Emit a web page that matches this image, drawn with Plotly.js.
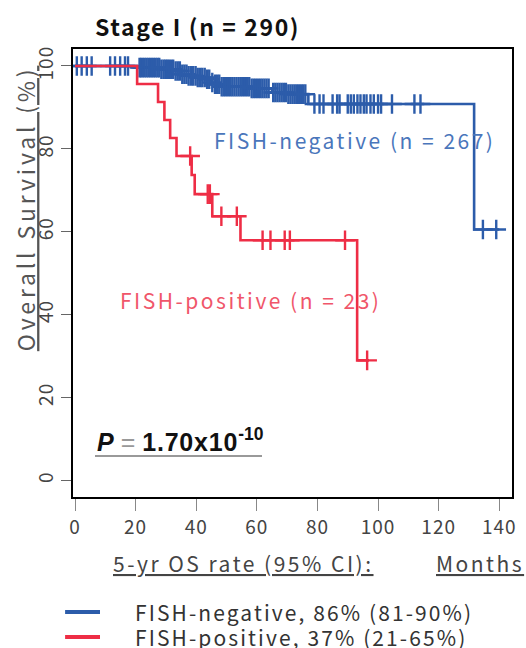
<!DOCTYPE html>
<html>
<head>
<meta charset="utf-8">
<script src="https://cdn.plot.ly/plotly-3.0.1.min.js"></script>
<style>html,body{margin:0;padding:0;background:#fff;}#chart{width:526px;height:648px;}</style>
</head>
<body>
<div id="chart"></div>
<script>
// ---- Data ----
// FISH-negative Kaplan-Meier steps (months, survival %)
var negTimes = [0, 21, 28, 33, 35, 37, 40, 43, 45, 46, 48, 58, 65, 70, 77, 131.7];
var negSurv  = [100, 99.6, 99.2, 98.8, 98.0, 97.6, 97.2, 96.8, 96.0, 95.6, 95.0, 94.6, 93.6, 93.2, 90.8, 60.5];
var negCensor = [0.6, 2.2, 3.9, 5.5, 11.6, 13.2, 14.9, 16.5, 17.5,
  21.3, 21.8, 22.4, 23.0, 23.6, 24.2, 24.8, 25.4, 26.0, 26.6, 27.2, 27.8, 28.5, 29.2, 29.8, 30.4, 31.0, 31.7,
  32.4, 33.2, 33.9, 34.6, 35.4, 36.1, 36.8, 37.5, 38.3, 39.0, 39.8, 40.5, 41.3, 42.0, 42.8, 43.6, 44.3,
  45.3, 46.2, 46.9, 47.6, 48.4, 49.1, 49.8, 50.5, 51.2, 51.9, 52.6, 53.3, 54.0, 54.7, 55.4, 56.1, 56.8,
  57.5, 58.3, 59.0, 59.7, 60.4, 61.1, 61.8, 62.5, 63.2, 63.9, 65.4, 66.1, 66.8, 67.5, 68.2, 68.9, 69.6,
  70.4, 71.1, 71.8, 72.5, 73.2, 73.9, 74.6, 75.3, 76.0,
  79, 80.7, 82, 85, 86.5, 87.3, 90, 91, 92, 93.2, 94.2, 95.3, 96.2, 97.5, 98.6, 100, 101, 104.6, 112, 114,
  134.6, 139];

// FISH-positive Kaplan-Meier steps
var posTimes = [0, 20.5, 27.4, 29.5, 31.4, 33.5, 38.5, 39.5, 45.3, 54.6, 93.1];
var posSurv  = [100, 95.65, 91.3, 86.96, 82.61, 78.26, 73.66, 69.05, 63.7, 57.9, 28.9];
var posCensor = [38.0, 43.8, 44.5, 48.3, 53.4, 61.9, 64.5, 69.2, 70.9, 89.1, 96.4];

var xTicks = [0, 20, 40, 60, 80, 100, 120, 140];
var yTicks = [0, 20, 40, 60, 80, 100];

var negEnd = 140, posEnd = 97;
var negColor = '#2c5caa', posColor = '#ee2d45';

// ---- helpers: build step line, look up survival at censor times ----
function stepXY(t, s, tEnd) {
  var x = [], y = [];
  for (var i = 0; i < t.length; i++) {
    if (i > 0) { x.push(t[i]); y.push(s[i - 1]); }
    x.push(t[i]); y.push(s[i]);
  }
  x.push(tEnd); y.push(s[s.length - 1]);
  return {x: x, y: y};
}
function survAt(t, s, time) {
  var v = s[0];
  for (var i = 0; i < t.length; i++) { if (t[i] <= time) v = s[i]; }
  return v;
}
function sp(txt, ls) { return '<span style="letter-spacing:' + ls + 'px">' + txt + '</span>'; }

var negStep = stepXY(negTimes, negSurv, negEnd);
var posStep = stepXY(posTimes, posSurv, posEnd);

var traces = [
  {x: negStep.x, y: negStep.y, mode: 'lines', line: {color: negColor, width: 2.6}, hoverinfo: 'skip', showlegend: false},
  {x: negCensor, y: negCensor.map(function (c) { return survAt(negTimes, negSurv, c); }), mode: 'markers',
   marker: {symbol: 'cross-thin', size: 14, line: {color: negColor, width: 2.4}}, hoverinfo: 'skip', showlegend: false},
  {x: posStep.x, y: posStep.y, mode: 'lines', line: {color: posColor, width: 2.6}, hoverinfo: 'skip', showlegend: false},
  {x: posCensor, y: posCensor.map(function (c) { return survAt(posTimes, posSurv, c); }), mode: 'markers',
   marker: {symbol: 'cross-thin', size: 14, line: {color: posColor, width: 2.4}}, hoverinfo: 'skip', showlegend: false}
];

var jp = '"Noto Sans CJK JP", "Noto Sans", sans-serif';
var layout = {
  width: 526, height: 648,
  margin: {l: 73, r: 14, t: 49, b: 151, pad: 0},
  paper_bgcolor: '#fff', plot_bgcolor: '#fff',
  showlegend: false,
  xaxis: {
    range: [-0.66, 144.2], tickvals: xTicks, ticktext: xTicks.map(function (v) { return sp(String(v), 1); }),
    showgrid: false, zeroline: false, showline: true, mirror: true, linecolor: '#000', linewidth: 2,
    ticks: 'outside', ticklen: 12, tickcolor: '#888', tickwidth: 1,
    tickfont: {family: jp, size: 19, color: '#444'}, fixedrange: true
  },
  yaxis: {
    range: [-4.1, 104.1], tickvals: yTicks, ticktext: yTicks.map(function (v) { return sp(String(v), 1); }),
    showgrid: false, zeroline: false, showline: true, mirror: true, linecolor: '#000', linewidth: 2,
    ticks: 'outside', ticklen: 10, tickcolor: '#666', tickwidth: 1, tickangle: -90,
    tickfont: {family: jp, size: 19, color: '#444'}, fixedrange: true
  },
  annotations: [
    {xref: 'paper', yref: 'paper', x: 0.0456, y: 1.051, xanchor: 'left', yanchor: 'middle', showarrow: false,
     text: '<b>' + sp('Stage I (n = 290)', 1.6) + '</b>', font: {family: jp, size: 23, color: '#111'}},
    {xref: 'paper', yref: 'paper', x: -0.109, y: 0.645, xanchor: 'center', yanchor: 'middle', showarrow: false, textangle: -90,
     text: '<u>' + sp('Overall Survival (%)', 3.8) + '</u>', font: {family: jp, size: 23, color: '#555'}},
    {xref: 'x', yref: 'y', x: 45.2, y: 82.1, xanchor: 'left', yanchor: 'middle', showarrow: false,
     text: sp('FISH-negative (n = 267)', 2.5), font: {family: jp, size: 21, color: '#4a76bb'}},
    {xref: 'x', yref: 'y', x: 14.2, y: 43.5, xanchor: 'left', yanchor: 'middle', showarrow: false,
     text: sp('FISH-positive (n = 23)', 2.5), font: {family: jp, size: 21, color: '#f0566a'}},
    {xref: 'x', yref: 'y', x: 6.6, y: 9.6, xanchor: 'left', yanchor: 'middle', showarrow: false,
     text: '<b><i>P</i></b><span style="color:#999;font-weight:normal"> = </span><b>' + sp('1.70x10', 0.8) + '<sup>-10</sup></b>',
     font: {family: 'Liberation Sans, Arial, sans-serif', size: 25, color: '#111'}},
    {xref: 'paper', yref: 'paper', x: 0.0866, y: -0.147, xanchor: 'left', yanchor: 'middle', showarrow: false,
     text: '<u>' + sp('5-yr OS rate (95% CI):', 2.5) + '</u>', font: {family: jp, size: 21, color: '#444'}},
    {xref: 'paper', yref: 'paper', x: 0.822, y: -0.147, xanchor: 'left', yanchor: 'middle', showarrow: false,
     text: '<u>' + sp('Months', 2.5) + '</u>', font: {family: jp, size: 21, color: '#444'}},
    {xref: 'paper', yref: 'paper', x: 0.1367, y: -0.2567, xanchor: 'left', yanchor: 'middle', showarrow: false,
     text: sp('FISH-negative, 86% (81-90%)', 2.1), font: {family: jp, size: 21, color: '#333'}},
    {xref: 'paper', yref: 'paper', x: 0.1367, y: -0.312, xanchor: 'left', yanchor: 'middle', showarrow: false,
     text: sp('FISH-positive, 37% (21-65%)', 2.1), font: {family: jp, size: 21, color: '#333'}}
  ],
  shapes: [
    {type: 'line', xref: 'paper', yref: 'paper', x0: -0.018, x1: 0.0615, y0: -0.2567, y1: -0.2567, line: {color: negColor, width: 4}},
    {type: 'line', xref: 'paper', yref: 'paper', x0: -0.018, x1: 0.0615, y0: -0.3125, y1: -0.3125, line: {color: posColor, width: 4}},
    // underline of the P value
    {type: 'line', xref: 'paper', yref: 'paper', x0: 0.0501, x1: 0.4305, y0: 0.0915, y1: 0.0915, line: {color: '#777', width: 1.5}}
  ]
};

Plotly.newPlot('chart', traces, layout, {displayModeBar: false, staticPlot: true});
</script>
</body>
</html>
